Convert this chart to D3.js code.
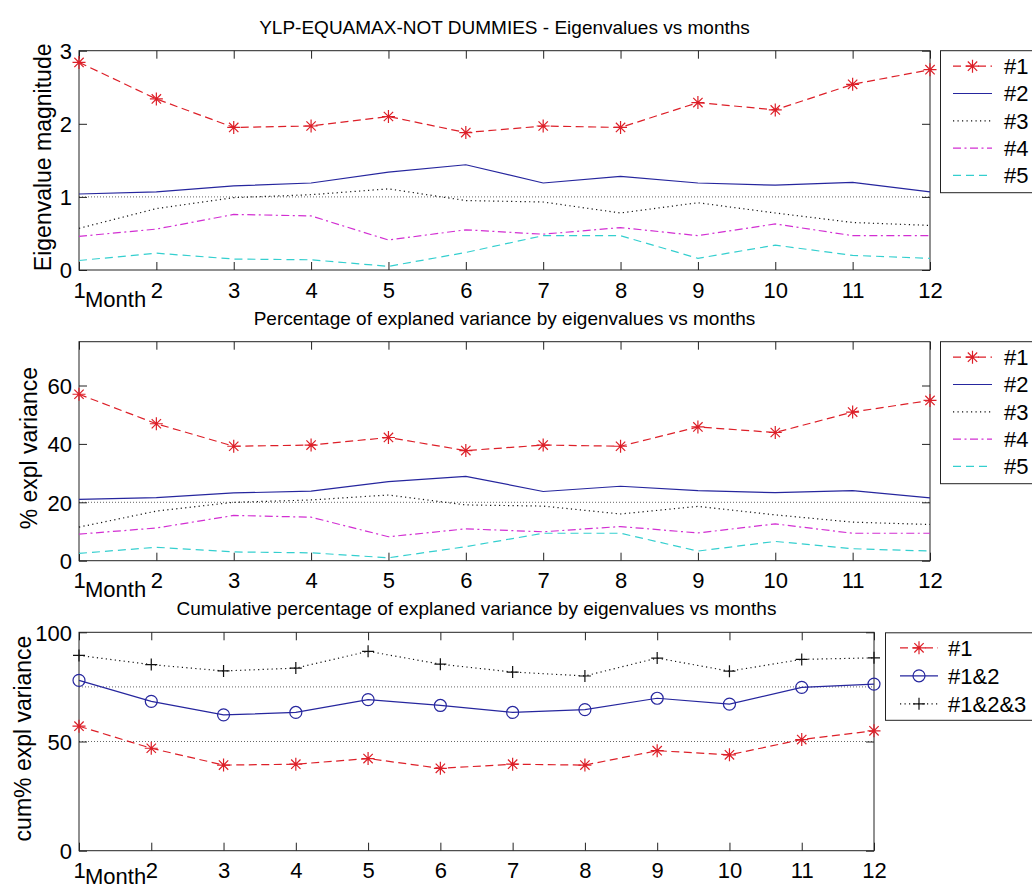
<!DOCTYPE html>
<html>
<head>
<meta charset="utf-8">
<script src="https://cdn.jsdelivr.net/npm/d3@7"></script>
<style>
  body { margin: 0; background: #fff; }
  text { font-family: "Liberation Sans", Arial, sans-serif; fill: #000; }
</style>
</head>
<body>
<svg id="chart" width="1032" height="889"></svg>
<script>
// ---- data -------------------------------------------------------------
const months = [1, 2, 3, 4, 5, 6, 7, 8, 9, 10, 11, 12];

// eigenvalues per month
const eig1 = [2.84, 2.34, 1.95, 1.97, 2.10, 1.88, 1.97, 1.95, 2.29, 2.19, 2.54, 2.74];
const eig2 = [1.04, 1.07, 1.15, 1.19, 1.34, 1.44, 1.19, 1.28, 1.19, 1.16, 1.20, 1.07];
const eig3 = [0.57, 0.84, 0.99, 1.03, 1.11, 0.95, 0.93, 0.78, 0.92, 0.78, 0.65, 0.61];
const eig4 = [0.46, 0.56, 0.76, 0.74, 0.41, 0.55, 0.49, 0.58, 0.47, 0.63, 0.47, 0.47];
const eig5 = [0.13, 0.23, 0.15, 0.14, 0.05, 0.24, 0.47, 0.47, 0.16, 0.34, 0.20, 0.16];

// percentage of explained variance
const pct1 = [57.0, 46.9, 39.2, 39.6, 42.2, 37.7, 39.6, 39.2, 45.8, 43.9, 50.9, 54.9];
const pct2 = [21.0, 21.6, 23.2, 23.8, 27.1, 28.9, 23.7, 25.5, 24.0, 23.3, 24.0, 21.5];
const pct3 = [11.5, 17.0, 20.0, 20.8, 22.5, 19.1, 18.7, 16.0, 18.6, 15.7, 13.2, 12.4];
const pct4 = [9.1, 11.2, 15.5, 14.9, 8.2, 10.9, 9.9, 11.7, 9.5, 12.6, 9.4, 9.4];
const pct5 = [2.5, 4.6, 3.0, 2.7, 1.0, 4.8, 9.4, 9.4, 3.3, 6.6, 4.1, 3.3];

// cumulative percentage
const cum1   = [57.0, 46.9, 39.2, 39.6, 42.2, 37.7, 39.6, 39.2, 45.8, 43.9, 50.9, 54.9];
const cum12  = [78.0, 68.4, 62.2, 63.3, 69.2, 66.5, 63.3, 64.6, 69.8, 67.1, 74.8, 76.3];
const cum123 = [89.4, 85.2, 82.3, 83.6, 91.3, 85.4, 81.8, 80.0, 88.2, 82.2, 87.6, 88.3];

const eigTicks = [0, 1, 2, 3];
const pctTicks = [0, 20, 40, 60];
const cumTicks = [0, 50, 100];

const eigNames = ["#1", "#2", "#3", "#4", "#5"];
const cumNames = ["#1", "#1&2", "#1&2&3"];

const titles = [
  "YLP-EQUAMAX-NOT DUMMIES - Eigenvalues vs months",
  "Percentage of explaned variance by eigenvalues vs months",
  "Cumulative percentage of explaned variance by eigenvalues vs months"
];
const yLabels = ["Eigenvalue magnitude", "% expl variance", "cum% expl variance"];
const xLabel = "Month";

// ---- styles ------------------------------------------------------------
const RED = "#dd1f28", BLUE = "#26269e", BLACK = "#111", MAGENTA = "#d22fd2", CYAN = "#34cfcf";
const LW = 1.2;
const styles5 = [
  { color: RED, dash: "8,4.5", marker: "star" },
  { color: BLUE, dash: null, marker: null },
  { color: BLACK, dash: "1.2,3.3", marker: null },
  { color: MAGENTA, dash: "8,3.5,2,3.5", marker: null },
  { color: CYAN, dash: "8,5", marker: null }
];
const styles3 = [
  { color: RED, dash: "8,4.5", marker: "star" },
  { color: BLUE, dash: null, marker: "circle" },
  { color: BLACK, dash: "1.2,3.3", marker: "plus" }
];

const svg = d3.select("#chart");
const FRAME = "#222";

function drawMarker(g, kind, x, y, color) {
  if (kind === "star") {
    const s = 6.5, d = s * 0.72;
    g.append("path")
      .attr("d", `M${x - s},${y}H${x + s}M${x},${y - s}V${y + s}M${x - d},${y - d}L${x + d},${y + d}M${x - d},${y + d}L${x + d},${y - d}`)
      .attr("stroke", color).attr("stroke-width", LW).attr("fill", "none");
  } else if (kind === "circle") {
    g.append("circle").attr("cx", x).attr("cy", y).attr("r", 6)
      .attr("stroke", color).attr("stroke-width", LW).attr("fill", "none");
  } else if (kind === "plus") {
    const s = 6;
    g.append("path")
      .attr("d", `M${x - s},${y}H${x + s}M${x},${y - s}V${y + s}`)
      .attr("stroke", color).attr("stroke-width", LW).attr("fill", "none");
  }
}

function drawPanel(p) {
  const x = d3.scaleLinear().domain([1, 12]).range([p.left, p.right]);
  const y = d3.scaleLinear().domain(p.yDomain).range([p.bottom, p.top]);
  const g = svg.append("g");

  // title
  g.append("text")
    .attr("x", (p.left + p.right) / 2).attr("y", p.top - 17)
    .attr("text-anchor", "middle").attr("font-size", 19)
    .text(p.title);

  // reference lines
  p.refs.forEach(v => {
    g.append("line")
      .attr("x1", p.left).attr("x2", p.right)
      .attr("y1", y(v)).attr("y2", y(v))
      .attr("stroke", "#666").attr("stroke-width", 1)
      .attr("stroke-dasharray", "1,2");
  });

  // axes (ticks point inward, mirrored on all four sides)
  const fmt = d3.format("d");
  const ax = g.append("g").attr("transform", `translate(0,${p.bottom})`)
    .call(d3.axisBottom(x).tickValues(months).tickSize(-8).tickPadding(12).tickFormat(fmt));
  const axTop = g.append("g").attr("transform", `translate(0,${p.top})`)
    .call(d3.axisTop(x).tickValues(months).tickSize(-8).tickFormat(""));
  const ay = g.append("g").attr("transform", `translate(${p.left},0)`)
    .call(d3.axisLeft(y).tickValues(p.yTicks).tickSize(-8).tickPadding(7).tickFormat(fmt));
  const ayR = g.append("g").attr("transform", `translate(${p.right},0)`)
    .call(d3.axisRight(y).tickValues(p.yTicks).tickSize(-8).tickFormat(""));
  [ax, axTop, ay, ayR].forEach(a => {
    a.select(".domain").remove();
    a.selectAll("line").attr("stroke", FRAME);
    a.selectAll("text").attr("font-size", 22).attr("fill", "#000")
      .style("font-family", '"Liberation Sans", Arial, sans-serif');
  });
  ay.selectAll("text").attr("dy", "0.36em");

  // frame
  g.append("rect")
    .attr("x", p.left).attr("y", p.top)
    .attr("width", p.right - p.left).attr("height", p.bottom - p.top)
    .attr("fill", "none").attr("stroke", FRAME).attr("stroke-width", 1);

  // x label
  g.append("text")
    .attr("x", p.left + 6).attr("y", Math.min(p.bottom + 36.5, 884))
    .attr("font-size", 22).text(xLabel);

  // y label
  g.append("text")
    .attr("transform", `translate(${p.yLabelX},${(p.top + p.bottom) / 2 - 3}) rotate(-90)`)
    .attr("text-anchor", "middle").attr("font-size", 23)
    .text(p.yLabel);

  // series
  const line = d3.line().x((d, i) => x(months[i])).y(d => y(d));
  p.series.forEach((vals, k) => {
    const st = p.styles[k];
    g.append("path").datum(vals)
      .attr("d", line)
      .attr("fill", "none").attr("stroke", st.color).attr("stroke-width", LW)
      .attr("stroke-dasharray", st.dash);
    if (st.marker) {
      vals.forEach((v, i) => drawMarker(g, st.marker, x(months[i]), y(v), st.color));
    }
  });

  // legend
  const L = p.legend;
  g.append("rect")
    .attr("x", L.x).attr("y", L.y).attr("width", L.w).attr("height", L.h)
    .attr("fill", "#fff").attr("stroke", FRAME).attr("stroke-width", 1);
  p.names.forEach((name, k) => {
    const st = p.styles[k];
    const cy = L.y + L.first + k * L.step;
    g.append("line")
      .attr("x1", L.lx0).attr("x2", L.lx1).attr("y1", cy).attr("y2", cy)
      .attr("stroke", st.color).attr("stroke-width", LW)
      .attr("stroke-dasharray", st.dash);
    if (st.marker) drawMarker(g, st.marker, (L.lx0 + L.lx1) / 2, cy, st.color);
    g.append("text")
      .attr("x", L.tx).attr("y", cy).attr("dy", "0.36em")
      .attr("font-size", 22).text(name);
  });
}

drawPanel({
  left: 79, right: 930, top: 50.7, bottom: 270,
  yDomain: [0, 3], yTicks: eigTicks, refs: [1],
  title: titles[0], yLabel: yLabels[0], yLabelX: 51,
  series: [eig1, eig2, eig3, eig4, eig5], styles: styles5, names: eigNames,
  legend: { x: 940.5, y: 50.7, w: 110, h: 142, first: 15.5, step: 27.3, lx0: 953, lx1: 992, tx: 1004 }
});

drawPanel({
  left: 79, right: 930, top: 341.7, bottom: 560.7,
  yDomain: [0, 75], yTicks: pctTicks, refs: [20],
  title: titles[1], yLabel: yLabels[1], yLabelX: 37,
  series: [pct1, pct2, pct3, pct4, pct5], styles: styles5, names: eigNames,
  legend: { x: 940.5, y: 341.7, w: 110, h: 142, first: 15.5, step: 27.3, lx0: 953, lx1: 992, tx: 1004 }
});

drawPanel({
  left: 79, right: 874, top: 632.3, bottom: 850.7,
  yDomain: [0, 100], yTicks: cumTicks, refs: [50, 75],
  title: titles[2], yLabel: yLabels[2], yLabelX: 31,
  series: [cum1, cum12, cum123], styles: styles3, names: cumNames,
  legend: { x: 885.5, y: 632.8, w: 160, h: 87.5, first: 15, step: 28, lx0: 900, lx1: 938, tx: 948 }
});
</script>
</body>
</html>
